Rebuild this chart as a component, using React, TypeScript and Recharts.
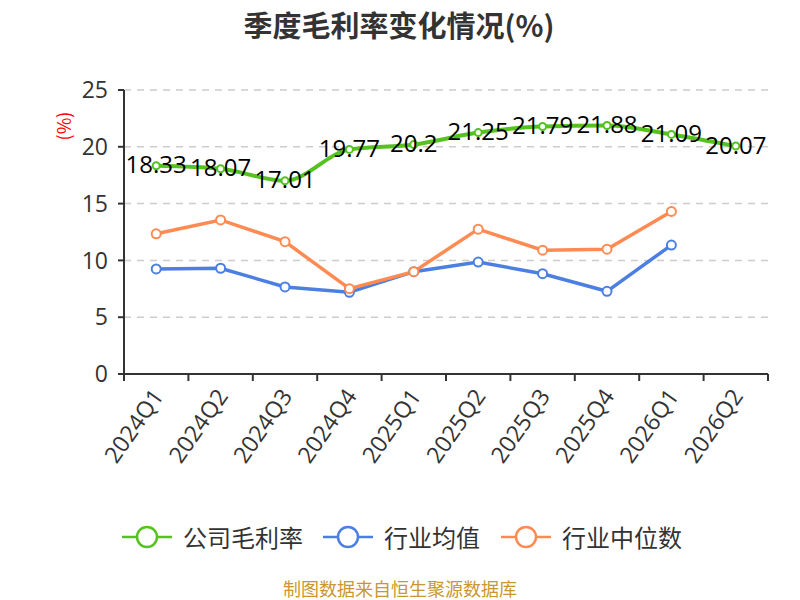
import { CartesianGrid, LabelList, Line, LineChart, XAxis, YAxis } from "recharts";

const quarters = ["2024Q1", "2024Q2", "2024Q3", "2024Q4", "2025Q1", "2025Q2", "2025Q3", "2025Q4", "2026Q1", "2026Q2"];
const companyMargin = [18.33, 18.07, 17.01, 19.77, 20.2, 21.25, 21.79, 21.88, 21.09, 20.07];
const industryMean = [9.25, 9.31, 7.66, 7.19, 9.01, 9.85, 8.83, 7.28, 11.35, null];
const industryMedian = [12.34, 13.56, 11.65, 7.51, 9.01, 12.75, 10.9, 10.99, 14.31, null];
const yTicks = [0, 5, 10, 15, 20, 25];

const seriesNames = ["公司毛利率", "行业均值", "行业中位数"];
const GREEN = "#56c21f";
const BLUE = "#4b7fe2";
const ORANGE = "#ff8b52";
const FONT = "'Open Sans', 'Noto Sans CJK SC', sans-serif";
const CJK_FONT = "'Noto Sans CJK SC', 'Noto Sans', sans-serif";

const PLOT_LEFT = 124;
const PLOT_RIGHT = 768;
const BAND = (PLOT_RIGHT - PLOT_LEFT) / quarters.length;

if (typeof document !== "undefined") document.body.style.margin = "0";

const data = quarters.map((q, i) => ({
  q,
  company: companyMargin[i],
  mean: industryMean[i],
  median: industryMedian[i],
}));

function QuarterTick(props: any) {
  const { x, y, payload, index } = props;
  const half = BAND / 2;
  const ty = y + 17;
  return (
    <g>
      <line x1={x - half} x2={x - half} y1={y} y2={y + 7} stroke="#333" strokeWidth={2} />
      {index === quarters.length - 1 && (
        <line x1={x + half} x2={x + half} y1={y} y2={y + 7} stroke="#333" strokeWidth={2} />
      )}
      <text
        x={x + 1}
        y={ty}
        textAnchor="end"
        dominantBaseline="central"
        transform={`rotate(-55 ${x + 1} ${ty})`}
        fontSize={23}
        fill="#333"
      >
        {payload.value}
      </text>
    </g>
  );
}

function ValueLabel(props: any) {
  const { x, y, value } = props;
  if (value == null) return null;
  return (
    <text x={x} y={y - 2} textAnchor="middle" dominantBaseline="central" fontSize={24} fill="#000">
      {value}
    </text>
  );
}

function LegendItem({ x, color, label }: { x: number; color: string; label: string }) {
  const cy = 537;
  return (
    <g>
      <line x1={x} x2={x + 50} y1={cy} y2={cy} stroke={color} strokeWidth={2.5} />
      <circle cx={x + 25} cy={cy} r={10} fill="#fff" stroke={color} strokeWidth={2.5} />
      <text x={x + 61} y={cy - 1} dominantBaseline="central" fontSize={24} fill="#333" fontFamily={CJK_FONT}>
        {label}
      </text>
    </g>
  );
}

export default function App() {
  const legendX = [122, 323, 501];
  const legendColors = [GREEN, BLUE, ORANGE];
  return (
    <div style={{ position: "relative", width: 800, height: 600, fontFamily: FONT, background: "#fff" }}>
      <LineChart width={800} height={600} data={data} margin={{ top: 90, right: 32, bottom: 0, left: 0 }}>
        <CartesianGrid vertical={false} stroke="#cccccc" strokeWidth={1.5} strokeDasharray="7 6" />
        <XAxis
          dataKey="q"
          scale="band"
          height={226}
          axisLine={{ stroke: "#333", strokeWidth: 2 }}
          tickLine={false}
          tickSize={0}
          tickMargin={0}
          interval={0}
          tick={<QuarterTick />}
        />
        <YAxis
          type="number"
          domain={[0, 25]}
          ticks={yTicks}
          width={124}
          axisLine={{ stroke: "#333", strokeWidth: 2 }}
          tickLine={{ stroke: "#333", strokeWidth: 2 }}
          tickSize={6}
          tickMargin={10}
          tick={{ fontSize: 23, fill: "#333" }}
        />
        <Line
          type="linear"
          dataKey="mean"
          stroke={BLUE}
          strokeWidth={3.5}
          dot={{ r: 4.5, fill: "#fff", stroke: BLUE, strokeWidth: 2 }}
          activeDot={false}
          isAnimationActive={false}
        />
        <Line
          type="linear"
          dataKey="median"
          stroke={ORANGE}
          strokeWidth={3.5}
          dot={{ r: 4.5, fill: "#fff", stroke: ORANGE, strokeWidth: 2 }}
          activeDot={false}
          isAnimationActive={false}
        />
        <Line
          type="monotone"
          dataKey="company"
          stroke={GREEN}
          strokeWidth={4}
          dot={{ r: 3.5, fill: "#fff", stroke: GREEN, strokeWidth: 2 }}
          activeDot={false}
          isAnimationActive={false}
        >
          <LabelList dataKey="company" content={<ValueLabel />} />
        </Line>
      </LineChart>
      <svg
        width={800}
        height={600}
        style={{ position: "absolute", left: 0, top: 0, pointerEvents: "none", fontFamily: CJK_FONT }}
      >
        <text x={399} y={24} textAnchor="middle" dominantBaseline="central" fontSize={29} fontWeight="bold" fill="#333">
          季度毛利率变化情况(%)
        </text>
        <text
          x={63}
          y={126}
          textAnchor="middle"
          dominantBaseline="central"
          fontSize={18}
          fill="#ff0000"
          transform="rotate(-90 63 126)"
        >
          (%)
        </text>
        {seriesNames.map((name, i) => (
          <LegendItem key={name} x={legendX[i]} color={legendColors[i]} label={name} />
        ))}
        <text x={400} y={588} textAnchor="middle" dominantBaseline="central" fontSize={18} fill="#c9972f">
          制图数据来自恒生聚源数据库
        </text>
      </svg>
    </div>
  );
}
